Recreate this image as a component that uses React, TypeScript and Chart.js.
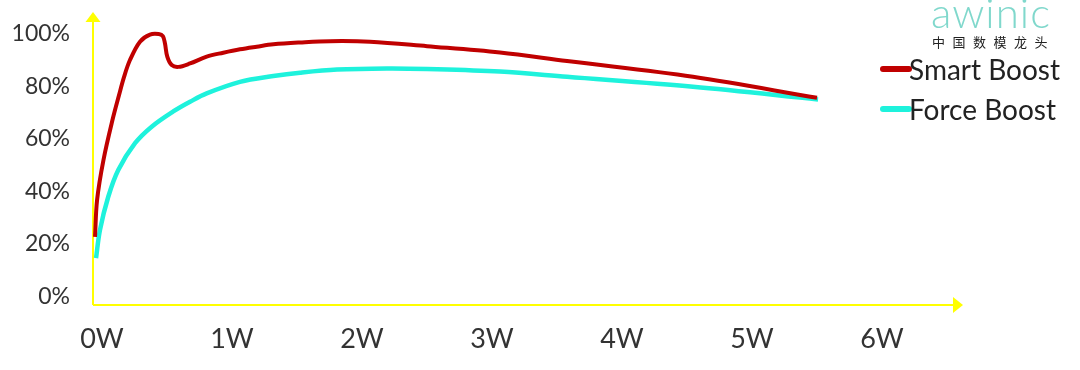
import React, { useEffect, useRef } from 'react';
import { Chart, registerables } from 'chart.js';

Chart.register(...registerables);

// ---- data ----
const seriesNames = ['Smart Boost', 'Force Boost'];
const seriesColors = ['#C00000', '#1EF2DC'];

const smartW = [0, 0.016, 0.065, 0.138, 0.185, 0.223, 0.269, 0.346, 0.423, 0.49, 0.522, 0.538, 0.556, 0.59, 0.641, 0.731, 0.859, 0.987, 1.115, 1.244, 1.372, 1.577, 1.808, 2.115, 2.554, 3.115, 3.631, 4.6, 5.554];
const smartPct = [22.7, 36.8, 52.0, 68.0, 76.8, 83.6, 90.1, 97.1, 99.8, 100.0, 99.2, 96.5, 91.4, 88.2, 87.5, 88.8, 91.4, 92.9, 94.2, 95.2, 96.1, 96.8, 97.3, 97.1, 95.4, 93.0, 89.7, 83.7, 75.7];

const forceW = [0.008, 0.038, 0.102, 0.179, 0.308, 0.436, 0.602, 0.731, 0.859, 1.115, 1.372, 1.577, 1.862, 2.246, 2.554, 3.115, 3.631, 4.6, 5.562];
const forcePct = [14.6, 25.3, 38.0, 48.2, 58.4, 64.7, 70.5, 74.2, 77.4, 81.8, 84.0, 85.3, 86.5, 86.9, 86.7, 85.7, 83.7, 79.9, 75.1];

const xTicks = [0, 1, 2, 3, 4, 5, 6];
const yTicks = [0, 20, 40, 60, 80, 100];

const AXIS_COLOR = '#FFFF00';
const TEXT_COLOR = '#333333';

const arrowAxes = {
  id: 'arrowAxes',
  beforeDatasetsDraw(chart: any) {
    const { ctx, chartArea } = chart;
    const { left, right, top, bottom } = chartArea;
    ctx.save();
    ctx.strokeStyle = AXIS_COLOR;
    ctx.fillStyle = AXIS_COLOR;
    ctx.lineWidth = 2;
    ctx.beginPath();
    ctx.moveTo(left, bottom);
    ctx.lineTo(left, top);
    ctx.moveTo(left, bottom);
    ctx.lineTo(right, bottom);
    ctx.stroke();
    ctx.beginPath();
    ctx.moveTo(left, top - 10);
    ctx.lineTo(left - 7.5, top);
    ctx.lineTo(left + 7.5, top);
    ctx.closePath();
    ctx.fill();
    ctx.beginPath();
    ctx.moveTo(right + 10, bottom);
    ctx.lineTo(right, bottom - 8);
    ctx.lineTo(right, bottom + 8);
    ctx.closePath();
    ctx.fill();
    ctx.restore();
  },
};

const customLegend = {
  id: 'customLegend',
  afterDraw(chart: any) {
    const { ctx } = chart;
    ctx.save();
    chart.data.datasets.forEach((ds: any, i: number) => {
      const cy = 69 + i * 40;
      ctx.strokeStyle = ds.borderColor;
      ctx.lineWidth = 6;
      ctx.lineCap = 'round';
      ctx.beginPath();
      ctx.moveTo(883, cy);
      ctx.lineTo(909, cy);
      ctx.stroke();
      ctx.fillStyle = '#222222';
      ctx.font = '28px Lato';
      ctx.textBaseline = 'alphabetic';
      ctx.textAlign = 'left';
      ctx.fillText(ds.label, 909, cy + 11);
    });
    ctx.restore();
  },
};

export default function App() {
  const canvasRef = useRef<HTMLCanvasElement | null>(null);

  useEffect(() => {
    if (!canvasRef.current) return;
    const chart = new Chart(canvasRef.current, {
      type: 'line',
      data: {
        datasets: [
          {
            label: seriesNames[0],
            data: smartW.map((x, i) => ({ x, y: smartPct[i] })),
            borderColor: seriesColors[0],
            borderWidth: 4,
            pointRadius: 0,
            tension: 0.35,
            borderJoinStyle: 'round',
            fill: false,
          },
          {
            label: seriesNames[1],
            data: forceW.map((x, i) => ({ x, y: forcePct[i] })),
            borderColor: seriesColors[1],
            borderWidth: 4.5,
            pointRadius: 0,
            tension: 0.35,
            borderJoinStyle: 'round',
            fill: false,
          },
        ],
      },
      options: {
        responsive: false,
        animation: false,
        layout: { padding: { left: 13, top: 22, right: 127, bottom: 0 } },
        plugins: { legend: { display: false }, tooltip: { enabled: false } },
        scales: {
          x: {
            type: 'linear',
            min: -0.0154,
            max: 6.6,
            grid: { display: false, drawTicks: false },
            border: { display: false },
            afterBuildTicks: (s: any) => {
              s.ticks = xTicks.map((v) => ({ value: v }));
            },
            afterFit: (s: any) => {
              s.height = 65;
              s.paddingLeft = 0;
              s.paddingRight = 0;
            },
            ticks: {
              padding: 18,
              labelOffset: 7,
              maxRotation: 0,
              autoSkip: false,
              color: TEXT_COLOR,
              font: { family: 'Lato', size: 27 },
              callback: (v: any) => `${v}W`,
            },
          },
          y: {
            type: 'linear',
            min: -3.24,
            max: 104.6,
            grid: { display: false, drawTicks: false },
            border: { display: false },
            afterBuildTicks: (s: any) => {
              s.ticks = yTicks.map((v) => ({ value: v }));
            },
            afterFit: (s: any) => {
              s.width = 80;
              s.paddingTop = 0;
              s.paddingBottom = 0;
            },
            ticks: {
              padding: 23,
              color: TEXT_COLOR,
              font: { family: 'Lato', size: 23 },
              callback: (v: any) => `${v}%`,
            },
          },
        },
      },
      plugins: [arrowAxes, customLegend],
    } as any);
    return () => chart.destroy();
  }, []);

  return (
    <div style={{ position: 'absolute', left: 0, top: 0, width: 1080, height: 370, background: '#ffffff', overflow: 'hidden' }}>
      <canvas ref={canvasRef} width={1080} height={370} style={{ position: 'absolute', left: 0, top: 0, width: 1080, height: 370 }} />
      <div
        style={{
          position: 'absolute',
          left: 931,
          top: -9,
          fontFamily: 'Lato',
          fontWeight: 300,
          fontSize: 42,
          lineHeight: '42px',
          color: '#80D8CC',
          letterSpacing: 1,
        }}
      >
        awinic
      </div>
      <div
        style={{
          position: 'absolute',
          left: 932,
          top: 35,
          fontFamily: '"Noto Sans CJK SC"',
          fontSize: 13,
          lineHeight: '14px',
          letterSpacing: 7.5,
          color: '#222222',
          whiteSpace: 'nowrap',
        }}
      >
        中国数模龙头
      </div>
    </div>
  );
}
